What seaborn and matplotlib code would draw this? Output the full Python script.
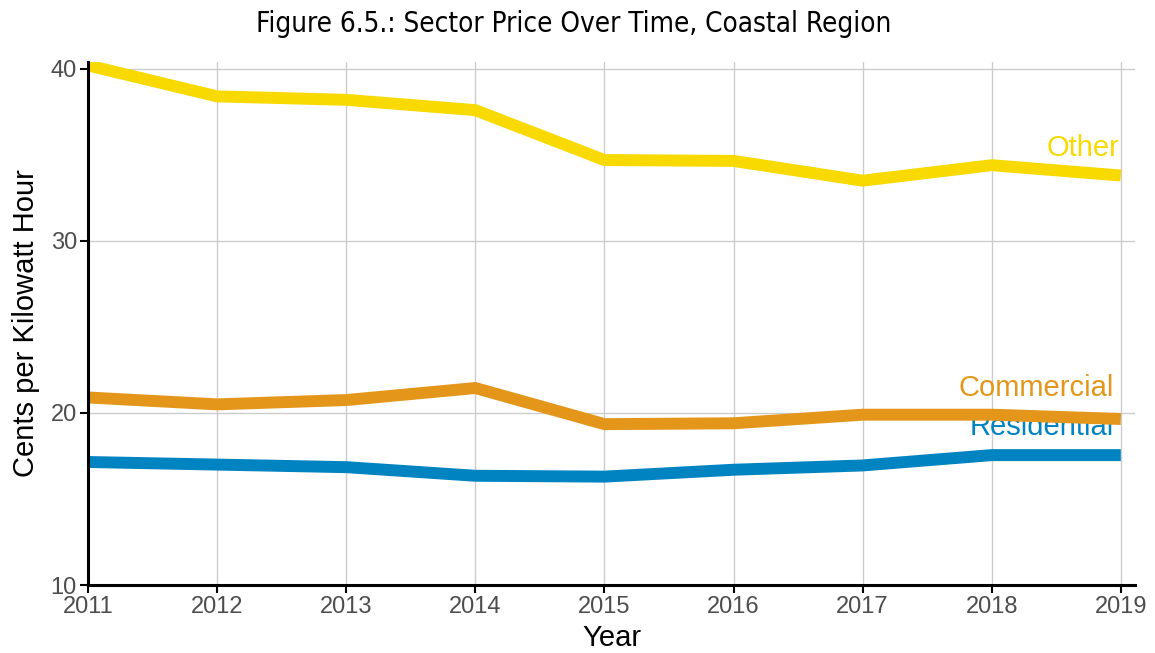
import matplotlib
matplotlib.use("Agg")
import matplotlib.pyplot as plt
import seaborn as sns
import pandas as pd

years = [2011, 2012, 2013, 2014, 2015, 2016, 2017, 2018, 2019]
other = [40.2, 38.4, 38.2, 37.6, 34.7, 34.65, 33.5, 34.4, 33.8]
commercial = [20.9, 20.5, 20.75, 21.45, 19.35, 19.4, 19.9, 19.9, 19.65]
residential = [17.15, 17.0, 16.85, 16.35, 16.3, 16.7, 16.95, 17.55, 17.55]
sectors = ["Other", "Commercial", "Residential"]
colors = {"Other": "#F8D900", "Commercial": "#E3961A", "Residential": "#0083C1"}

df = pd.concat([
    pd.DataFrame({"Year": years, "Price": vals, "Sector": name})
    for name, vals in zip(sectors, [other, commercial, residential])
])

sns.set_theme(style="whitegrid")
plt.rcParams["font.family"] = ["Liberation Sans", "DejaVu Sans"]

fig = plt.figure(figsize=(11.55, 6.53), dpi=100)
ax = fig.add_axes([0.0762, 0.1041, 0.9065, 0.801])

# labels drawn beneath the lines
label_pos = {"Other": (2018.99, 35.4), "Commercial": (2018.95, 21.45), "Residential": (2018.95, 19.2)}
for name in sectors:
    x, y = label_pos[name]
    ax.text(x, y, name, color=colors[name], fontsize=21, ha="right", va="center", zorder=1)

sns.lineplot(data=df, x="Year", y="Price", hue="Sector", palette=colors,
             linewidth=8.6, ax=ax, legend=False, zorder=2)
for ln in ax.lines:
    ln.set_solid_capstyle("butt")
    ln.set_solid_joinstyle("miter")

ax.set_xlim(2011, 2019.11)
ax.set_ylim(10, 40.4)
ax.set_xticks(years)
ax.set_xticklabels([str(y) for y in years])
ax.set_yticks([10, 20, 30, 40])
ax.grid(True, color="#cccccc", linewidth=1)
ax.set_axisbelow(True)
ax.set_facecolor("white")
for s in ["top", "right"]:
    ax.spines[s].set_visible(False)
for s in ["left", "bottom"]:
    ax.spines[s].set_color("black")
    ax.spines[s].set_linewidth(2.2)
ax.tick_params(axis="both", which="both", length=6, width=1.5, color="black",
               labelsize=17, labelcolor="#4d4d4d", left=True, bottom=True, pad=2)
ax.set_xlabel("Year", fontsize=21, color="black", labelpad=4)
ax.set_ylabel("Cents per Kilowatt Hour", fontsize=21, color="black", labelpad=8)

fig.suptitle("Figure 6.5.: Sector Price Over Time, Coastal Region", x=0.497, y=0.984,
             fontsize=20, family=["DejaVu Sans"], fontstretch="condensed", va="top",
             color="black")

fig.savefig("out.png", dpi=100)
